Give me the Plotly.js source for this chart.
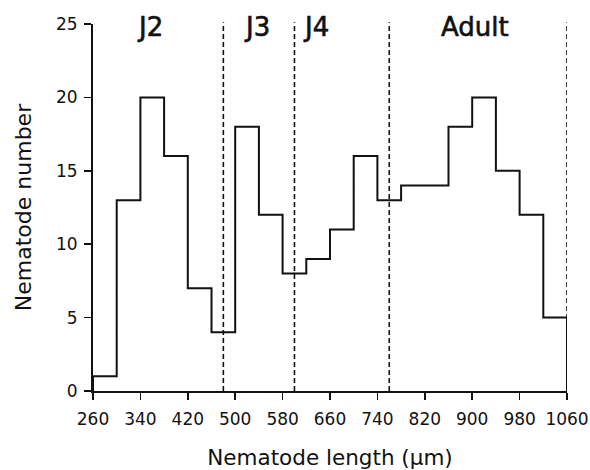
<!DOCTYPE html>
<html>
<head>
<meta charset="utf-8">
<script src="https://cdn.plot.ly/plotly-3.0.1.min.js"></script>
<style>
html,body{margin:0;padding:0;background:#fff;}
#chart{width:590px;height:470px;}
.annotation-text{stroke:#111;stroke-width:0.6px;}
</style>
</head>
<body>
<div id="chart"></div>
<script>
// Histogram bins (μm) and counts
const binStart = 260;
const binWidth = 40;
const counts = [1, 13, 20, 16, 7, 4, 18, 12, 8, 9, 11, 16, 13, 14, 14, 18, 20, 15, 12, 5];
// Stage boundaries (dashed lines)
const stageBounds = [480, 600, 760, 1060];
// Stage labels
const stageNames = ["J2", "J3", "J4", "Adult"];
const stageLabelX = [357, 537, 636, 905];
const xTickVals = [260, 340, 420, 500, 580, 660, 740, 820, 900, 980, 1060];
const yTickVals = [0, 5, 10, 15, 20, 25];

// Build step outline
const edges = counts.map((c, i) => binStart + i * binWidth);
const lastEdge = binStart + counts.length * binWidth;
const xs = [binStart].concat(edges, [lastEdge, lastEdge]);
const ys = [0].concat(counts, [counts[counts.length - 1], 0]);

const traces = [{
  x: xs, y: ys, type: 'scatter', mode: 'lines',
  line: {shape: 'hv', color: '#111', width: 2},
  hoverinfo: 'skip', showlegend: false
}];

const shapes = stageBounds.map(b => ({
  type: 'line', xref: 'x', yref: 'paper', x0: b, x1: b, y0: 0, y1: 1.005,
  line: {color: '#111', width: 1.6, dash: '5px,3px'}
}));

const annotations = stageNames.map((n, i) => ({
  text: n, x: stageLabelX[i], y: 25, xref: 'x', yref: 'y',
  yanchor: 'middle', xanchor: 'center', showarrow: false, yshift: -3,
  font: {family: 'DejaVu Sans', size: 26, color: '#111'}
}));

const layout = {
  width: 590, height: 470,
  margin: {l: 93, r: 23, t: 24, b: 79},
  paper_bgcolor: '#fff', plot_bgcolor: '#fff',
  font: {family: 'DejaVu Sans', color: '#111'},
  xaxis: {
    range: [260, 1060], tickvals: xTickVals, ticks: 'outside', ticklen: 7, tickwidth: 1.5,
    tickcolor: '#111', showline: true, linecolor: '#111', linewidth: 2, showgrid: false, zeroline: false,
    tickfont: {size: 17, color: '#111'}, ticklabelstandoff: 5,
    title: {text: 'Nematode length (μm)', font: {size: 21.5, color: '#111'}, standoff: 24}
  },
  yaxis: {
    range: [0, 25], tickvals: yTickVals, ticks: 'outside', ticklen: 7, tickwidth: 1.5,
    tickcolor: '#111', showline: true, linecolor: '#111', linewidth: 2, showgrid: false, zeroline: false,
    tickfont: {size: 17, color: '#111'}, ticklabelstandoff: 3,
    title: {text: 'Nematode number', font: {size: 22, color: '#111'}, standoff: 18}
  },
  shapes: shapes,
  annotations: annotations
};

Plotly.newPlot('chart', traces, layout, {displayModeBar: false, staticPlot: true});
</script>
</body>
</html>
